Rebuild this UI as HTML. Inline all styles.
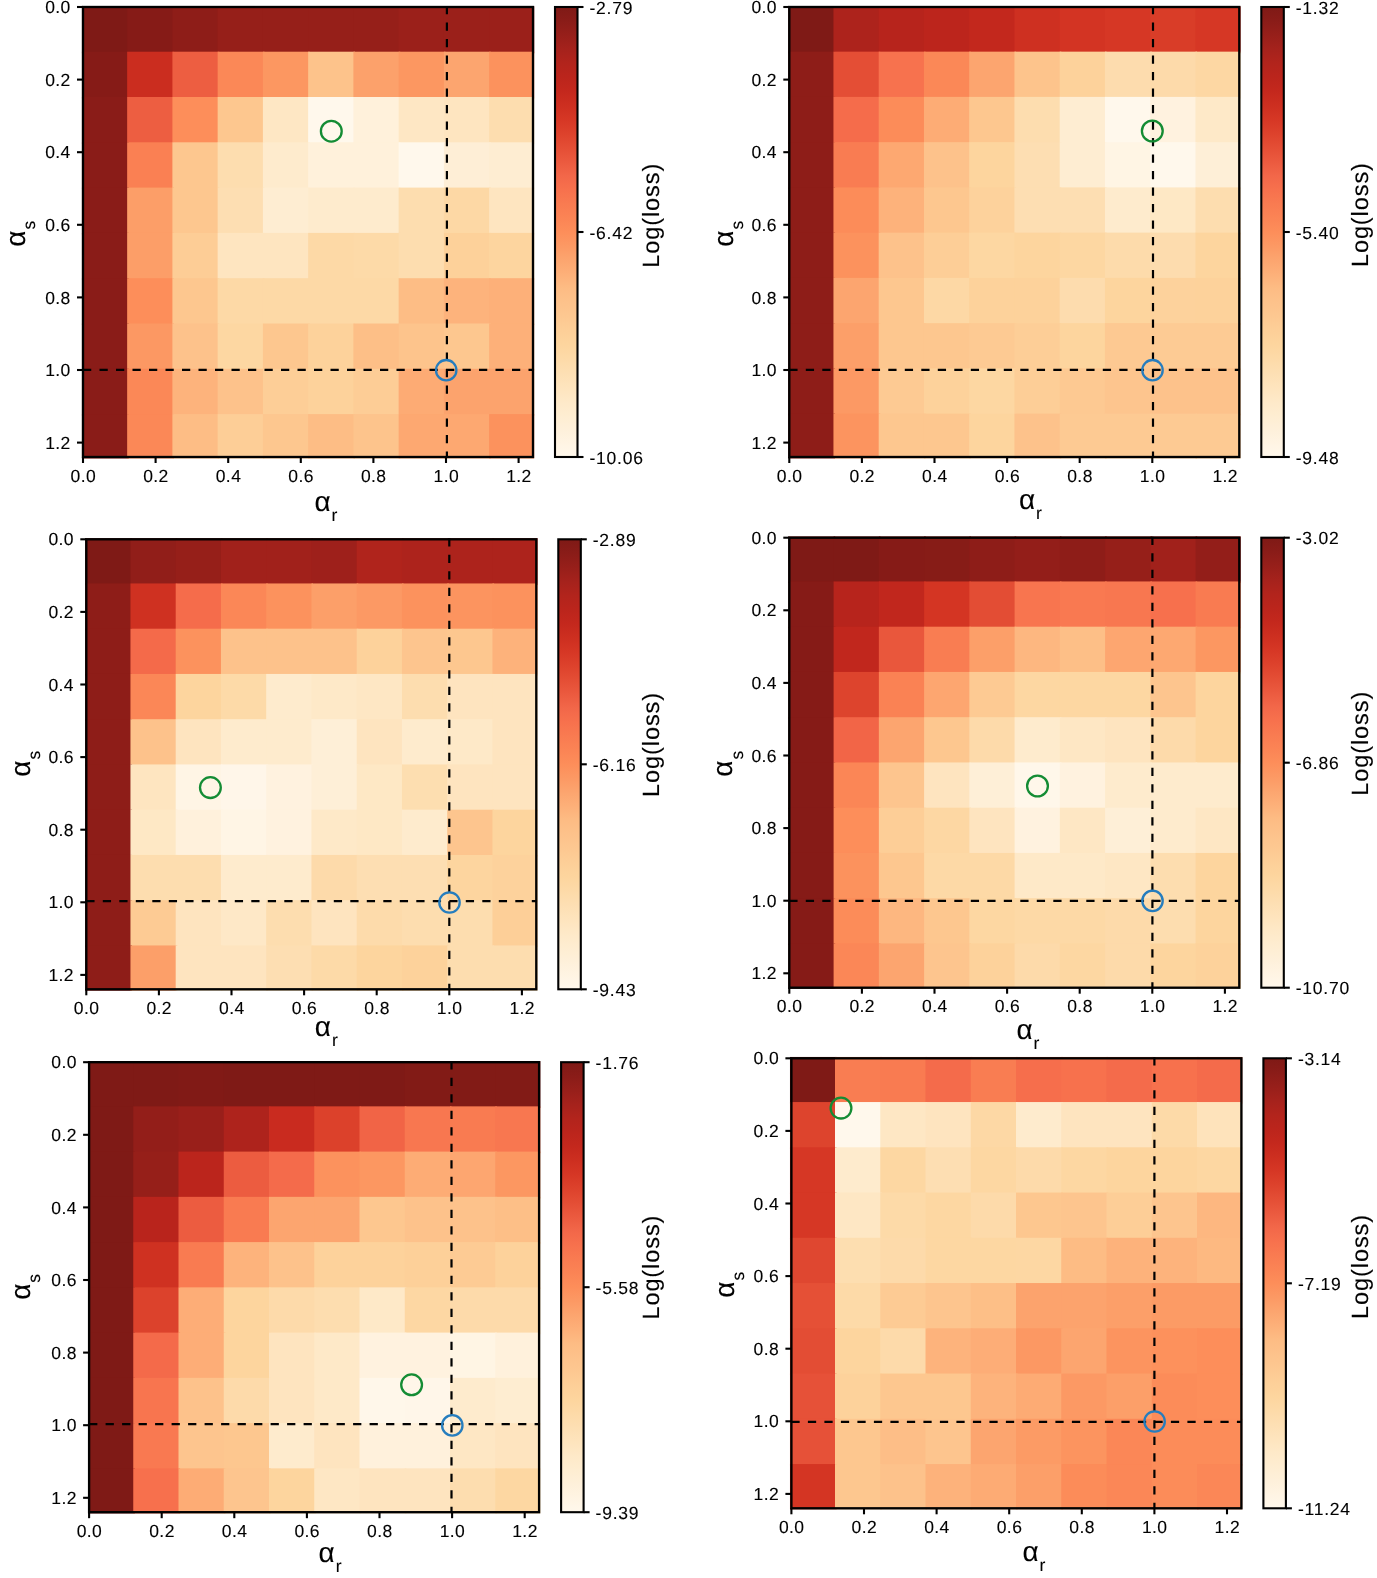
<!DOCTYPE html><html><head><meta charset="utf-8"><title>heatmaps</title><style>html,body{margin:0;padding:0;background:#fff}body{width:1377px;height:1578px;position:relative;overflow:hidden;font-family:"Liberation Sans",sans-serif}</style></head><body><svg width="1377" height="1578" viewBox="0 0 1377 1578" style="position:absolute;left:0;top:0;will-change:transform;opacity:0.999;font-family:'Liberation Sans',sans-serif"><style>text{stroke:#000;stroke-width:0.12px;text-rendering:geometricPrecision}</style>
<defs><linearGradient id="cb" x1="0" y1="0" x2="0" y2="1"><stop offset="0.0000" stop-color="#7f1a16"/><stop offset="0.0312" stop-color="#8a1c18"/><stop offset="0.0625" stop-color="#971f1a"/><stop offset="0.0938" stop-color="#a5221c"/><stop offset="0.1250" stop-color="#b2241c"/><stop offset="0.1562" stop-color="#bb251c"/><stop offset="0.1875" stop-color="#c4281d"/><stop offset="0.2188" stop-color="#cd2f20"/><stop offset="0.2500" stop-color="#d63725"/><stop offset="0.2812" stop-color="#dd422c"/><stop offset="0.3125" stop-color="#e44e35"/><stop offset="0.3438" stop-color="#eb5a3f"/><stop offset="0.3750" stop-color="#f26749"/><stop offset="0.4062" stop-color="#f7714d"/><stop offset="0.4375" stop-color="#f97b51"/><stop offset="0.4688" stop-color="#fb8455"/><stop offset="0.5000" stop-color="#fd8e5a"/><stop offset="0.5312" stop-color="#fc9964"/><stop offset="0.5625" stop-color="#fca56f"/><stop offset="0.5938" stop-color="#fdb079"/><stop offset="0.6250" stop-color="#fdbc84"/><stop offset="0.6562" stop-color="#fdc28b"/><stop offset="0.6875" stop-color="#fdc891"/><stop offset="0.7188" stop-color="#fdcf98"/><stop offset="0.7500" stop-color="#fdd59e"/><stop offset="0.7812" stop-color="#fddaa8"/><stop offset="0.8125" stop-color="#fddfb3"/><stop offset="0.8438" stop-color="#fee4bd"/><stop offset="0.8750" stop-color="#fee9c8"/><stop offset="0.9062" stop-color="#feedd1"/><stop offset="0.9375" stop-color="#fef0da"/><stop offset="0.9688" stop-color="#fff4e3"/><stop offset="1.0000" stop-color="#fff8ec"/></linearGradient></defs>
<g><clipPath id="c0"><rect x="81.5" y="5.5" width="453.1" height="453.1"/></clipPath><g clip-path="url(#c0)"><rect x="81.9" y="6.4" width="46.85" height="46.9" fill="#7f1a16"/><rect x="127.15" y="6.4" width="46.85" height="46.9" fill="#861b17"/><rect x="172.4" y="6.4" width="46.85" height="46.9" fill="#8e1d18"/><rect x="217.65" y="6.4" width="46.85" height="46.9" fill="#961f19"/><rect x="262.9" y="6.4" width="46.85" height="46.9" fill="#961f19"/><rect x="308.15" y="6.4" width="46.85" height="46.9" fill="#961f19"/><rect x="353.4" y="6.4" width="46.85" height="46.9" fill="#961f19"/><rect x="398.65" y="6.4" width="46.85" height="46.9" fill="#9b201a"/><rect x="443.9" y="6.4" width="46.85" height="46.9" fill="#9b201a"/><rect x="489.15" y="6.4" width="45.25" height="46.9" fill="#9b201a"/><rect x="81.9" y="51.7" width="46.85" height="46.9" fill="#861b17"/><rect x="127.15" y="51.7" width="46.85" height="46.9" fill="#cb2d1f"/><rect x="172.4" y="51.7" width="46.85" height="46.9" fill="#ed5e41"/><rect x="217.65" y="51.7" width="46.85" height="46.9" fill="#fb8857"/><rect x="262.9" y="51.7" width="46.85" height="46.9" fill="#fc9761"/><rect x="308.15" y="51.7" width="46.85" height="46.9" fill="#fdc38b"/><rect x="353.4" y="51.7" width="46.85" height="46.9" fill="#fca16b"/><rect x="398.65" y="51.7" width="46.85" height="46.9" fill="#fc9761"/><rect x="443.9" y="51.7" width="46.85" height="46.9" fill="#fca56f"/><rect x="489.15" y="51.7" width="45.25" height="46.9" fill="#fc925d"/><rect x="81.9" y="97" width="46.85" height="46.9" fill="#8a1c18"/><rect x="127.15" y="97" width="46.85" height="46.9" fill="#ed5e41"/><rect x="172.4" y="97" width="46.85" height="46.9" fill="#fd8e5a"/><rect x="217.65" y="97" width="46.85" height="46.9" fill="#fdc78f"/><rect x="262.9" y="97" width="46.85" height="46.9" fill="#fee7c4"/><rect x="308.15" y="97" width="46.85" height="46.9" fill="#fff8ec"/><rect x="353.4" y="97" width="46.85" height="46.9" fill="#fff1db"/><rect x="398.65" y="97" width="46.85" height="46.9" fill="#fee7c4"/><rect x="443.9" y="97" width="46.85" height="46.9" fill="#fee5c0"/><rect x="489.15" y="97" width="45.25" height="46.9" fill="#fdddaf"/><rect x="81.9" y="142.3" width="46.85" height="46.9" fill="#8a1c18"/><rect x="127.15" y="142.3" width="46.85" height="46.9" fill="#fa8053"/><rect x="172.4" y="142.3" width="46.85" height="46.9" fill="#fdc78f"/><rect x="217.65" y="142.3" width="46.85" height="46.9" fill="#fdddaf"/><rect x="262.9" y="142.3" width="46.85" height="46.9" fill="#feebcd"/><rect x="308.15" y="142.3" width="46.85" height="46.9" fill="#fff1db"/><rect x="353.4" y="142.3" width="46.85" height="46.9" fill="#fff1db"/><rect x="398.65" y="142.3" width="46.85" height="46.9" fill="#fff8ec"/><rect x="443.9" y="142.3" width="46.85" height="46.9" fill="#feeed6"/><rect x="489.15" y="142.3" width="45.25" height="46.9" fill="#feedd2"/><rect x="81.9" y="187.6" width="46.85" height="46.9" fill="#8a1c18"/><rect x="127.15" y="187.6" width="46.85" height="46.9" fill="#fc9e68"/><rect x="172.4" y="187.6" width="46.85" height="46.9" fill="#fdc78f"/><rect x="217.65" y="187.6" width="46.85" height="46.9" fill="#fddeb2"/><rect x="262.9" y="187.6" width="46.85" height="46.9" fill="#feedd2"/><rect x="308.15" y="187.6" width="46.85" height="46.9" fill="#feebcd"/><rect x="353.4" y="187.6" width="46.85" height="46.9" fill="#feebcd"/><rect x="398.65" y="187.6" width="46.85" height="46.9" fill="#fdddaf"/><rect x="443.9" y="187.6" width="46.85" height="46.9" fill="#fdd8a5"/><rect x="489.15" y="187.6" width="45.25" height="46.9" fill="#fee5c0"/><rect x="81.9" y="232.9" width="46.85" height="46.9" fill="#8a1c18"/><rect x="127.15" y="232.9" width="46.85" height="46.9" fill="#fc9e68"/><rect x="172.4" y="232.9" width="46.85" height="46.9" fill="#fdcd96"/><rect x="217.65" y="232.9" width="46.85" height="46.9" fill="#fee5c0"/><rect x="262.9" y="232.9" width="46.85" height="46.9" fill="#fee5c0"/><rect x="308.15" y="232.9" width="46.85" height="46.9" fill="#fdd9a6"/><rect x="353.4" y="232.9" width="46.85" height="46.9" fill="#fddaa8"/><rect x="398.65" y="232.9" width="46.85" height="46.9" fill="#fdddaf"/><rect x="443.9" y="232.9" width="46.85" height="46.9" fill="#fdd19a"/><rect x="489.15" y="232.9" width="45.25" height="46.9" fill="#fdd59f"/><rect x="81.9" y="278.2" width="46.85" height="46.9" fill="#8a1c18"/><rect x="127.15" y="278.2" width="46.85" height="46.9" fill="#fd8e5a"/><rect x="172.4" y="278.2" width="46.85" height="46.9" fill="#fdc78f"/><rect x="217.65" y="278.2" width="46.85" height="46.9" fill="#fdd9a6"/><rect x="262.9" y="278.2" width="46.85" height="46.9" fill="#fdd9a6"/><rect x="308.15" y="278.2" width="46.85" height="46.9" fill="#fdd9a6"/><rect x="353.4" y="278.2" width="46.85" height="46.9" fill="#fdd9a6"/><rect x="398.65" y="278.2" width="46.85" height="46.9" fill="#fdbd85"/><rect x="443.9" y="278.2" width="46.85" height="46.9" fill="#fdb37c"/><rect x="489.15" y="278.2" width="45.25" height="46.9" fill="#fdb079"/><rect x="81.9" y="323.5" width="46.85" height="46.9" fill="#8a1c18"/><rect x="127.15" y="323.5" width="46.85" height="46.9" fill="#fc9863"/><rect x="172.4" y="323.5" width="46.85" height="46.9" fill="#fdc28b"/><rect x="217.65" y="323.5" width="46.85" height="46.9" fill="#fdd7a2"/><rect x="262.9" y="323.5" width="46.85" height="46.9" fill="#fdc78f"/><rect x="308.15" y="323.5" width="46.85" height="46.9" fill="#fdd29b"/><rect x="353.4" y="323.5" width="46.85" height="46.9" fill="#fdbf87"/><rect x="398.65" y="323.5" width="46.85" height="46.9" fill="#fdc48c"/><rect x="443.9" y="323.5" width="46.85" height="46.9" fill="#fdc78f"/><rect x="489.15" y="323.5" width="45.25" height="46.9" fill="#fdb079"/><rect x="81.9" y="368.8" width="46.85" height="46.9" fill="#8a1c18"/><rect x="127.15" y="368.8" width="46.85" height="46.9" fill="#fb8857"/><rect x="172.4" y="368.8" width="46.85" height="46.9" fill="#fdb37c"/><rect x="217.65" y="368.8" width="46.85" height="46.9" fill="#fdc28b"/><rect x="262.9" y="368.8" width="46.85" height="46.9" fill="#fdce97"/><rect x="308.15" y="368.8" width="46.85" height="46.9" fill="#fdd29b"/><rect x="353.4" y="368.8" width="46.85" height="46.9" fill="#fdcd96"/><rect x="398.65" y="368.8" width="46.85" height="46.9" fill="#fdab74"/><rect x="443.9" y="368.8" width="46.85" height="46.9" fill="#fca36d"/><rect x="489.15" y="368.8" width="45.25" height="46.9" fill="#fca36d"/><rect x="81.9" y="414.1" width="46.85" height="45.3" fill="#8a1c18"/><rect x="127.15" y="414.1" width="46.85" height="45.3" fill="#fb8857"/><rect x="172.4" y="414.1" width="46.85" height="45.3" fill="#fdbd85"/><rect x="217.65" y="414.1" width="46.85" height="45.3" fill="#fdce97"/><rect x="262.9" y="414.1" width="46.85" height="45.3" fill="#fdc78f"/><rect x="308.15" y="414.1" width="46.85" height="45.3" fill="#fdbd85"/><rect x="353.4" y="414.1" width="46.85" height="45.3" fill="#fdc48c"/><rect x="398.65" y="414.1" width="46.85" height="45.3" fill="#fda871"/><rect x="443.9" y="414.1" width="46.85" height="45.3" fill="#fda871"/><rect x="489.15" y="414.1" width="45.25" height="45.3" fill="#fc925d"/></g><path d="M83 369.8H533" stroke="#000" stroke-width="2.2" stroke-dasharray="8.25 8.25" fill="none"/><path d="M446.9 6V457" stroke="#000" stroke-width="2.2" stroke-dasharray="8.25 8.25" fill="none"/><circle cx="331.3" cy="131.2" r="10.4" fill="none" stroke="rgb(20,140,52)" stroke-width="2.3"/><circle cx="446.2" cy="370.2" r="10.2" fill="none" stroke="rgb(38,125,190)" stroke-width="2.3"/><rect x="83" y="7" width="450" height="450" fill="none" stroke="#000" stroke-width="2.35"/><path d="M77 7H83" stroke="#000" stroke-width="2.1"/><path d="M83 457V463" stroke="#000" stroke-width="2.1"/><text x="70.7" y="13.1" text-anchor="end" font-size="17.5" letter-spacing="0.4">0.0</text><text x="83.3" y="481.6" text-anchor="middle" font-size="17.5" letter-spacing="0.4">0.0</text><path d="M77 79.6H83" stroke="#000" stroke-width="2.1"/><path d="M155.6 457V463" stroke="#000" stroke-width="2.1"/><text x="70.7" y="85.7" text-anchor="end" font-size="17.5" letter-spacing="0.4">0.2</text><text x="155.9" y="481.6" text-anchor="middle" font-size="17.5" letter-spacing="0.4">0.2</text><path d="M77 152.2H83" stroke="#000" stroke-width="2.1"/><path d="M228.2 457V463" stroke="#000" stroke-width="2.1"/><text x="70.7" y="158.3" text-anchor="end" font-size="17.5" letter-spacing="0.4">0.4</text><text x="228.5" y="481.6" text-anchor="middle" font-size="17.5" letter-spacing="0.4">0.4</text><path d="M77 224.8H83" stroke="#000" stroke-width="2.1"/><path d="M300.8 457V463" stroke="#000" stroke-width="2.1"/><text x="70.7" y="230.9" text-anchor="end" font-size="17.5" letter-spacing="0.4">0.6</text><text x="301.1" y="481.6" text-anchor="middle" font-size="17.5" letter-spacing="0.4">0.6</text><path d="M77 297.4H83" stroke="#000" stroke-width="2.1"/><path d="M373.4 457V463" stroke="#000" stroke-width="2.1"/><text x="70.7" y="303.5" text-anchor="end" font-size="17.5" letter-spacing="0.4">0.8</text><text x="373.7" y="481.6" text-anchor="middle" font-size="17.5" letter-spacing="0.4">0.8</text><path d="M77 370H83" stroke="#000" stroke-width="2.1"/><path d="M446 457V463" stroke="#000" stroke-width="2.1"/><text x="70.7" y="376.1" text-anchor="end" font-size="17.5" letter-spacing="0.4">1.0</text><text x="446.3" y="481.6" text-anchor="middle" font-size="17.5" letter-spacing="0.4">1.0</text><path d="M77 442.6H83" stroke="#000" stroke-width="2.1"/><path d="M518.6 457V463" stroke="#000" stroke-width="2.1"/><text x="70.7" y="448.7" text-anchor="end" font-size="17.5" letter-spacing="0.4">1.2</text><text x="518.9" y="481.6" text-anchor="middle" font-size="17.5" letter-spacing="0.4">1.2</text><text x="314.5" y="510.6" font-size="28">α</text><text x="331.6" y="520.6" font-size="17.5">r</text><g transform="translate(25.1 246.8) rotate(-90)"><text x="0" y="0" font-size="28">α</text><text x="17.2" y="10.2" font-size="17.5">s</text></g><rect x="555" y="7" width="22.5" height="450" fill="url(#cb)" stroke="#000" stroke-width="2.1"/><path d="M577.5 7H583.5" stroke="#000" stroke-width="2.1"/><text x="589.5" y="13.6" font-size="17.5" letter-spacing="0.75">-2.79</text><path d="M577.5 232H583.5" stroke="#000" stroke-width="2.1"/><text x="589.5" y="238.6" font-size="17.5" letter-spacing="0.75">-6.42</text><path d="M577.5 457H583.5" stroke="#000" stroke-width="2.1"/><text x="589.5" y="463.6" font-size="17.5" letter-spacing="0.75">-10.06</text><g transform="translate(659 267.8) rotate(-90)"><text x="0" y="0" font-size="23.5" letter-spacing="0.92">Log(loss)</text></g></g>
<g><clipPath id="c1"><rect x="787.8" y="5.5" width="453.1" height="453.1"/></clipPath><g clip-path="url(#c1)"><rect x="788.2" y="6.4" width="46.85" height="46.85" fill="#7f1a16"/><rect x="833.45" y="6.4" width="46.85" height="46.85" fill="#ad231c"/><rect x="878.7" y="6.4" width="46.85" height="46.85" fill="#b7241c"/><rect x="923.95" y="6.4" width="46.85" height="46.85" fill="#bc251c"/><rect x="969.2" y="6.4" width="46.85" height="46.85" fill="#c3281d"/><rect x="1014.45" y="6.4" width="46.85" height="46.85" fill="#ce3021"/><rect x="1059.7" y="6.4" width="46.85" height="46.85" fill="#d33423"/><rect x="1104.95" y="6.4" width="46.85" height="46.85" fill="#d63725"/><rect x="1150.2" y="6.4" width="46.85" height="46.85" fill="#d93d28"/><rect x="1195.45" y="6.4" width="45.25" height="46.85" fill="#d63725"/><rect x="788.2" y="51.65" width="46.85" height="46.85" fill="#8e1d18"/><rect x="833.45" y="51.65" width="46.85" height="46.85" fill="#e44e35"/><rect x="878.7" y="51.65" width="46.85" height="46.85" fill="#f7724e"/><rect x="923.95" y="51.65" width="46.85" height="46.85" fill="#fb8857"/><rect x="969.2" y="51.65" width="46.85" height="46.85" fill="#fca56f"/><rect x="1014.45" y="51.65" width="46.85" height="46.85" fill="#fdc48c"/><rect x="1059.7" y="51.65" width="46.85" height="46.85" fill="#fdd29b"/><rect x="1104.95" y="51.65" width="46.85" height="46.85" fill="#fddcae"/><rect x="1150.2" y="51.65" width="46.85" height="46.85" fill="#fddaaa"/><rect x="1195.45" y="51.65" width="45.25" height="46.85" fill="#fdd7a3"/><rect x="788.2" y="96.9" width="46.85" height="46.85" fill="#8e1d18"/><rect x="833.45" y="96.9" width="46.85" height="46.85" fill="#f56c4b"/><rect x="878.7" y="96.9" width="46.85" height="46.85" fill="#fc8c59"/><rect x="923.95" y="96.9" width="46.85" height="46.85" fill="#fdac75"/><rect x="969.2" y="96.9" width="46.85" height="46.85" fill="#fdc78f"/><rect x="1014.45" y="96.9" width="46.85" height="46.85" fill="#fdddaf"/><rect x="1059.7" y="96.9" width="46.85" height="46.85" fill="#feedd2"/><rect x="1104.95" y="96.9" width="46.85" height="46.85" fill="#fff8ec"/><rect x="1150.2" y="96.9" width="46.85" height="46.85" fill="#fff2df"/><rect x="1195.45" y="96.9" width="45.25" height="46.85" fill="#fee9c8"/><rect x="788.2" y="142.15" width="46.85" height="46.85" fill="#8e1d18"/><rect x="833.45" y="142.15" width="46.85" height="46.85" fill="#f97c52"/><rect x="878.7" y="142.15" width="46.85" height="46.85" fill="#fda871"/><rect x="923.95" y="142.15" width="46.85" height="46.85" fill="#fdc28b"/><rect x="969.2" y="142.15" width="46.85" height="46.85" fill="#fdd59e"/><rect x="1014.45" y="142.15" width="46.85" height="46.85" fill="#fddeb2"/><rect x="1059.7" y="142.15" width="46.85" height="46.85" fill="#feedd2"/><rect x="1104.95" y="142.15" width="46.85" height="46.85" fill="#fff5e4"/><rect x="1150.2" y="142.15" width="46.85" height="46.85" fill="#fff8ec"/><rect x="1195.45" y="142.15" width="45.25" height="46.85" fill="#feefd7"/><rect x="788.2" y="187.4" width="46.85" height="46.85" fill="#8e1d18"/><rect x="833.45" y="187.4" width="46.85" height="46.85" fill="#fc8c59"/><rect x="878.7" y="187.4" width="46.85" height="46.85" fill="#fdb27b"/><rect x="923.95" y="187.4" width="46.85" height="46.85" fill="#fdc78f"/><rect x="969.2" y="187.4" width="46.85" height="46.85" fill="#fdd29c"/><rect x="1014.45" y="187.4" width="46.85" height="46.85" fill="#fddeb2"/><rect x="1059.7" y="187.4" width="46.85" height="46.85" fill="#fddeb2"/><rect x="1104.95" y="187.4" width="46.85" height="46.85" fill="#feebcd"/><rect x="1150.2" y="187.4" width="46.85" height="46.85" fill="#fee8c5"/><rect x="1195.45" y="187.4" width="45.25" height="46.85" fill="#fdddaf"/><rect x="788.2" y="232.65" width="46.85" height="46.85" fill="#8e1d18"/><rect x="833.45" y="232.65" width="46.85" height="46.85" fill="#fc925d"/><rect x="878.7" y="232.65" width="46.85" height="46.85" fill="#fdc28b"/><rect x="923.95" y="232.65" width="46.85" height="46.85" fill="#fdce97"/><rect x="969.2" y="232.65" width="46.85" height="46.85" fill="#fdd7a2"/><rect x="1014.45" y="232.65" width="46.85" height="46.85" fill="#fdd59e"/><rect x="1059.7" y="232.65" width="46.85" height="46.85" fill="#fdd7a2"/><rect x="1104.95" y="232.65" width="46.85" height="46.85" fill="#fddbab"/><rect x="1150.2" y="232.65" width="46.85" height="46.85" fill="#fddcae"/><rect x="1195.45" y="232.65" width="45.25" height="46.85" fill="#fdd59e"/><rect x="788.2" y="277.9" width="46.85" height="46.85" fill="#8e1d18"/><rect x="833.45" y="277.9" width="46.85" height="46.85" fill="#fca56f"/><rect x="878.7" y="277.9" width="46.85" height="46.85" fill="#fdc78f"/><rect x="923.95" y="277.9" width="46.85" height="46.85" fill="#fdd8a5"/><rect x="969.2" y="277.9" width="46.85" height="46.85" fill="#fdd29b"/><rect x="1014.45" y="277.9" width="46.85" height="46.85" fill="#fdd29b"/><rect x="1059.7" y="277.9" width="46.85" height="46.85" fill="#fddcae"/><rect x="1104.95" y="277.9" width="46.85" height="46.85" fill="#fdd59e"/><rect x="1150.2" y="277.9" width="46.85" height="46.85" fill="#fdd29c"/><rect x="1195.45" y="277.9" width="45.25" height="46.85" fill="#fdd29b"/><rect x="788.2" y="323.15" width="46.85" height="46.85" fill="#8e1d18"/><rect x="833.45" y="323.15" width="46.85" height="46.85" fill="#fc9f69"/><rect x="878.7" y="323.15" width="46.85" height="46.85" fill="#fdc78f"/><rect x="923.95" y="323.15" width="46.85" height="46.85" fill="#fdc78f"/><rect x="969.2" y="323.15" width="46.85" height="46.85" fill="#fdca93"/><rect x="1014.45" y="323.15" width="46.85" height="46.85" fill="#fdce97"/><rect x="1059.7" y="323.15" width="46.85" height="46.85" fill="#fdd59e"/><rect x="1104.95" y="323.15" width="46.85" height="46.85" fill="#fdc992"/><rect x="1150.2" y="323.15" width="46.85" height="46.85" fill="#fdcb94"/><rect x="1195.45" y="323.15" width="45.25" height="46.85" fill="#fdcb94"/><rect x="788.2" y="368.4" width="46.85" height="46.85" fill="#8e1d18"/><rect x="833.45" y="368.4" width="46.85" height="46.85" fill="#fc9964"/><rect x="878.7" y="368.4" width="46.85" height="46.85" fill="#fdca93"/><rect x="923.95" y="368.4" width="46.85" height="46.85" fill="#fdd29b"/><rect x="969.2" y="368.4" width="46.85" height="46.85" fill="#fdd7a2"/><rect x="1014.45" y="368.4" width="46.85" height="46.85" fill="#fdce97"/><rect x="1059.7" y="368.4" width="46.85" height="46.85" fill="#fdc992"/><rect x="1104.95" y="368.4" width="46.85" height="46.85" fill="#fdc58e"/><rect x="1150.2" y="368.4" width="46.85" height="46.85" fill="#fdc28b"/><rect x="1195.45" y="368.4" width="45.25" height="46.85" fill="#fdc28b"/><rect x="788.2" y="413.65" width="46.85" height="45.25" fill="#8e1d18"/><rect x="833.45" y="413.65" width="46.85" height="45.25" fill="#fc945f"/><rect x="878.7" y="413.65" width="46.85" height="45.25" fill="#fdc78f"/><rect x="923.95" y="413.65" width="46.85" height="45.25" fill="#fdc78f"/><rect x="969.2" y="413.65" width="46.85" height="45.25" fill="#fdd59e"/><rect x="1014.45" y="413.65" width="46.85" height="45.25" fill="#fdc28b"/><rect x="1059.7" y="413.65" width="46.85" height="45.25" fill="#fdca93"/><rect x="1104.95" y="413.65" width="46.85" height="45.25" fill="#fdca93"/><rect x="1150.2" y="413.65" width="46.85" height="45.25" fill="#fdca93"/><rect x="1195.45" y="413.65" width="45.25" height="45.25" fill="#fdca93"/></g><path d="M789.3 369.8H1239.3" stroke="#000" stroke-width="2.2" stroke-dasharray="8.25 8.25" fill="none"/><path d="M1153 6V457" stroke="#000" stroke-width="2.2" stroke-dasharray="8.25 8.25" fill="none"/><circle cx="1152.3" cy="131" r="10.4" fill="none" stroke="rgb(20,140,52)" stroke-width="2.3"/><circle cx="1152.5" cy="370.2" r="10.2" fill="none" stroke="rgb(38,125,190)" stroke-width="2.3"/><rect x="789.3" y="7" width="450" height="450" fill="none" stroke="#000" stroke-width="2.35"/><path d="M783.3 7H789.3" stroke="#000" stroke-width="2.1"/><path d="M789.3 457V463" stroke="#000" stroke-width="2.1"/><text x="777" y="13.1" text-anchor="end" font-size="17.5" letter-spacing="0.4">0.0</text><text x="789.6" y="481.6" text-anchor="middle" font-size="17.5" letter-spacing="0.4">0.0</text><path d="M783.3 79.6H789.3" stroke="#000" stroke-width="2.1"/><path d="M861.9 457V463" stroke="#000" stroke-width="2.1"/><text x="777" y="85.7" text-anchor="end" font-size="17.5" letter-spacing="0.4">0.2</text><text x="862.2" y="481.6" text-anchor="middle" font-size="17.5" letter-spacing="0.4">0.2</text><path d="M783.3 152.2H789.3" stroke="#000" stroke-width="2.1"/><path d="M934.5 457V463" stroke="#000" stroke-width="2.1"/><text x="777" y="158.3" text-anchor="end" font-size="17.5" letter-spacing="0.4">0.4</text><text x="934.8" y="481.6" text-anchor="middle" font-size="17.5" letter-spacing="0.4">0.4</text><path d="M783.3 224.8H789.3" stroke="#000" stroke-width="2.1"/><path d="M1007.1 457V463" stroke="#000" stroke-width="2.1"/><text x="777" y="230.9" text-anchor="end" font-size="17.5" letter-spacing="0.4">0.6</text><text x="1007.4" y="481.6" text-anchor="middle" font-size="17.5" letter-spacing="0.4">0.6</text><path d="M783.3 297.4H789.3" stroke="#000" stroke-width="2.1"/><path d="M1079.7 457V463" stroke="#000" stroke-width="2.1"/><text x="777" y="303.5" text-anchor="end" font-size="17.5" letter-spacing="0.4">0.8</text><text x="1080" y="481.6" text-anchor="middle" font-size="17.5" letter-spacing="0.4">0.8</text><path d="M783.3 370H789.3" stroke="#000" stroke-width="2.1"/><path d="M1152.3 457V463" stroke="#000" stroke-width="2.1"/><text x="777" y="376.1" text-anchor="end" font-size="17.5" letter-spacing="0.4">1.0</text><text x="1152.6" y="481.6" text-anchor="middle" font-size="17.5" letter-spacing="0.4">1.0</text><path d="M783.3 442.6H789.3" stroke="#000" stroke-width="2.1"/><path d="M1224.9 457V463" stroke="#000" stroke-width="2.1"/><text x="777" y="448.7" text-anchor="end" font-size="17.5" letter-spacing="0.4">1.2</text><text x="1225.2" y="481.6" text-anchor="middle" font-size="17.5" letter-spacing="0.4">1.2</text><text x="1019" y="508.8" font-size="28">α</text><text x="1036.1" y="518.8" font-size="17.5">r</text><g transform="translate(733.2 246.8) rotate(-90)"><text x="0" y="0" font-size="28">α</text><text x="17.2" y="10.2" font-size="17.5">s</text></g><rect x="1261.3" y="7" width="22.5" height="450" fill="url(#cb)" stroke="#000" stroke-width="2.1"/><path d="M1283.8 7H1289.8" stroke="#000" stroke-width="2.1"/><text x="1295.8" y="13.6" font-size="17.5" letter-spacing="0.75">-1.32</text><path d="M1283.8 232H1289.8" stroke="#000" stroke-width="2.1"/><text x="1295.8" y="238.6" font-size="17.5" letter-spacing="0.75">-5.40</text><path d="M1283.8 457H1289.8" stroke="#000" stroke-width="2.1"/><text x="1295.8" y="463.6" font-size="17.5" letter-spacing="0.75">-9.48</text><g transform="translate(1367.9 267.1) rotate(-90)"><text x="0" y="0" font-size="23.5" letter-spacing="0.92">Log(loss)</text></g></g>
<g><clipPath id="c2"><rect x="84.8" y="537.8" width="453.1" height="453.1"/></clipPath><g clip-path="url(#c2)"><rect x="85.2" y="538.2" width="46.85" height="46.85" fill="#7f1a16"/><rect x="130.45" y="538.2" width="46.85" height="46.85" fill="#911e19"/><rect x="175.7" y="538.2" width="46.85" height="46.85" fill="#961f19"/><rect x="220.95" y="538.2" width="46.85" height="46.85" fill="#a1211b"/><rect x="266.2" y="538.2" width="46.85" height="46.85" fill="#a1211b"/><rect x="311.45" y="538.2" width="46.85" height="46.85" fill="#9e201b"/><rect x="356.7" y="538.2" width="46.85" height="46.85" fill="#b0241c"/><rect x="401.95" y="538.2" width="46.85" height="46.85" fill="#ad231c"/><rect x="447.2" y="538.2" width="46.85" height="46.85" fill="#ad231c"/><rect x="492.45" y="538.2" width="45.25" height="46.85" fill="#ad231c"/><rect x="85.2" y="583.45" width="46.85" height="46.85" fill="#8e1d18"/><rect x="130.45" y="583.45" width="46.85" height="46.85" fill="#cf3121"/><rect x="175.7" y="583.45" width="46.85" height="46.85" fill="#f56c4b"/><rect x="220.95" y="583.45" width="46.85" height="46.85" fill="#fb8757"/><rect x="266.2" y="583.45" width="46.85" height="46.85" fill="#fc925d"/><rect x="311.45" y="583.45" width="46.85" height="46.85" fill="#fc9f69"/><rect x="356.7" y="583.45" width="46.85" height="46.85" fill="#fc9964"/><rect x="401.95" y="583.45" width="46.85" height="46.85" fill="#fc925d"/><rect x="447.2" y="583.45" width="46.85" height="46.85" fill="#fc945f"/><rect x="492.45" y="583.45" width="45.25" height="46.85" fill="#fc925d"/><rect x="85.2" y="628.7" width="46.85" height="46.85" fill="#8e1d18"/><rect x="130.45" y="628.7" width="46.85" height="46.85" fill="#f46a4a"/><rect x="175.7" y="628.7" width="46.85" height="46.85" fill="#fc925d"/><rect x="220.95" y="628.7" width="46.85" height="46.85" fill="#fdc28b"/><rect x="266.2" y="628.7" width="46.85" height="46.85" fill="#fdc28b"/><rect x="311.45" y="628.7" width="46.85" height="46.85" fill="#fdc28b"/><rect x="356.7" y="628.7" width="46.85" height="46.85" fill="#fdd29b"/><rect x="401.95" y="628.7" width="46.85" height="46.85" fill="#fdc58e"/><rect x="447.2" y="628.7" width="46.85" height="46.85" fill="#fdc78f"/><rect x="492.45" y="628.7" width="45.25" height="46.85" fill="#fdb27b"/><rect x="85.2" y="673.95" width="46.85" height="46.85" fill="#8e1d18"/><rect x="130.45" y="673.95" width="46.85" height="46.85" fill="#fb8757"/><rect x="175.7" y="673.95" width="46.85" height="46.85" fill="#fdd59e"/><rect x="220.95" y="673.95" width="46.85" height="46.85" fill="#fddaa8"/><rect x="266.2" y="673.95" width="46.85" height="46.85" fill="#feebcd"/><rect x="311.45" y="673.95" width="46.85" height="46.85" fill="#fee9c8"/><rect x="356.7" y="673.95" width="46.85" height="46.85" fill="#fee7c4"/><rect x="401.95" y="673.95" width="46.85" height="46.85" fill="#fdddaf"/><rect x="447.2" y="673.95" width="46.85" height="46.85" fill="#fee4bf"/><rect x="492.45" y="673.95" width="45.25" height="46.85" fill="#fee4bf"/><rect x="85.2" y="719.2" width="46.85" height="46.85" fill="#8e1d18"/><rect x="130.45" y="719.2" width="46.85" height="46.85" fill="#fdc28b"/><rect x="175.7" y="719.2" width="46.85" height="46.85" fill="#fee4bf"/><rect x="220.95" y="719.2" width="46.85" height="46.85" fill="#feebcd"/><rect x="266.2" y="719.2" width="46.85" height="46.85" fill="#feebcd"/><rect x="311.45" y="719.2" width="46.85" height="46.85" fill="#feefd7"/><rect x="356.7" y="719.2" width="46.85" height="46.85" fill="#fee4bf"/><rect x="401.95" y="719.2" width="46.85" height="46.85" fill="#feebcd"/><rect x="447.2" y="719.2" width="46.85" height="46.85" fill="#fee9c8"/><rect x="492.45" y="719.2" width="45.25" height="46.85" fill="#fee4bf"/><rect x="85.2" y="764.45" width="46.85" height="46.85" fill="#8e1d18"/><rect x="130.45" y="764.45" width="46.85" height="46.85" fill="#fee5c0"/><rect x="175.7" y="764.45" width="46.85" height="46.85" fill="#fff5e5"/><rect x="220.95" y="764.45" width="46.85" height="46.85" fill="#fff6e9"/><rect x="266.2" y="764.45" width="46.85" height="46.85" fill="#fff2df"/><rect x="311.45" y="764.45" width="46.85" height="46.85" fill="#feefd7"/><rect x="356.7" y="764.45" width="46.85" height="46.85" fill="#fee8c5"/><rect x="401.95" y="764.45" width="46.85" height="46.85" fill="#fddeb0"/><rect x="447.2" y="764.45" width="46.85" height="46.85" fill="#fee4bf"/><rect x="492.45" y="764.45" width="45.25" height="46.85" fill="#fee4bf"/><rect x="85.2" y="809.7" width="46.85" height="46.85" fill="#8e1d18"/><rect x="130.45" y="809.7" width="46.85" height="46.85" fill="#fee8c5"/><rect x="175.7" y="809.7" width="46.85" height="46.85" fill="#fff1dc"/><rect x="220.95" y="809.7" width="46.85" height="46.85" fill="#fff5e5"/><rect x="266.2" y="809.7" width="46.85" height="46.85" fill="#fff2df"/><rect x="311.45" y="809.7" width="46.85" height="46.85" fill="#fee9c8"/><rect x="356.7" y="809.7" width="46.85" height="46.85" fill="#fee8c5"/><rect x="401.95" y="809.7" width="46.85" height="46.85" fill="#feebcd"/><rect x="447.2" y="809.7" width="46.85" height="46.85" fill="#fdc58e"/><rect x="492.45" y="809.7" width="45.25" height="46.85" fill="#fdd59e"/><rect x="85.2" y="854.95" width="46.85" height="46.85" fill="#8e1d18"/><rect x="130.45" y="854.95" width="46.85" height="46.85" fill="#fdddaf"/><rect x="175.7" y="854.95" width="46.85" height="46.85" fill="#fdddaf"/><rect x="220.95" y="854.95" width="46.85" height="46.85" fill="#feebcd"/><rect x="266.2" y="854.95" width="46.85" height="46.85" fill="#feebcd"/><rect x="311.45" y="854.95" width="46.85" height="46.85" fill="#fddaaa"/><rect x="356.7" y="854.95" width="46.85" height="46.85" fill="#fddeb2"/><rect x="401.95" y="854.95" width="46.85" height="46.85" fill="#fddeb2"/><rect x="447.2" y="854.95" width="46.85" height="46.85" fill="#fdd59f"/><rect x="492.45" y="854.95" width="45.25" height="46.85" fill="#fdd29c"/><rect x="85.2" y="900.2" width="46.85" height="46.85" fill="#8e1d18"/><rect x="130.45" y="900.2" width="46.85" height="46.85" fill="#fdcb94"/><rect x="175.7" y="900.2" width="46.85" height="46.85" fill="#fee4bf"/><rect x="220.95" y="900.2" width="46.85" height="46.85" fill="#fee8c7"/><rect x="266.2" y="900.2" width="46.85" height="46.85" fill="#fdddaf"/><rect x="311.45" y="900.2" width="46.85" height="46.85" fill="#fee4bf"/><rect x="356.7" y="900.2" width="46.85" height="46.85" fill="#fddbab"/><rect x="401.95" y="900.2" width="46.85" height="46.85" fill="#fdddaf"/><rect x="447.2" y="900.2" width="46.85" height="46.85" fill="#fdddaf"/><rect x="492.45" y="900.2" width="45.25" height="46.85" fill="#fdcf98"/><rect x="85.2" y="945.45" width="46.85" height="45.25" fill="#8e1d18"/><rect x="130.45" y="945.45" width="46.85" height="45.25" fill="#fc9f69"/><rect x="175.7" y="945.45" width="46.85" height="45.25" fill="#fee4bf"/><rect x="220.95" y="945.45" width="46.85" height="45.25" fill="#fee4bf"/><rect x="266.2" y="945.45" width="46.85" height="45.25" fill="#fddeb2"/><rect x="311.45" y="945.45" width="46.85" height="45.25" fill="#fddaa8"/><rect x="356.7" y="945.45" width="46.85" height="45.25" fill="#fdd59e"/><rect x="401.95" y="945.45" width="46.85" height="45.25" fill="#fdd29b"/><rect x="447.2" y="945.45" width="46.85" height="45.25" fill="#fdddaf"/><rect x="492.45" y="945.45" width="45.25" height="45.25" fill="#fdddaf"/></g><path d="M86.3 901.1H536.3" stroke="#000" stroke-width="2.2" stroke-dasharray="8.25 8.25" fill="none"/><path d="M449.3 538.3V989.3" stroke="#000" stroke-width="2.2" stroke-dasharray="8.25 8.25" fill="none"/><circle cx="210.4" cy="787.6" r="10.4" fill="none" stroke="rgb(20,140,52)" stroke-width="2.3"/><circle cx="449.5" cy="902.5" r="10.2" fill="none" stroke="rgb(38,125,190)" stroke-width="2.3"/><rect x="86.3" y="539.3" width="450" height="450" fill="none" stroke="#000" stroke-width="2.35"/><path d="M80.3 539.3H86.3" stroke="#000" stroke-width="2.1"/><path d="M86.3 989.3V995.3" stroke="#000" stroke-width="2.1"/><text x="74" y="545.4" text-anchor="end" font-size="17.5" letter-spacing="0.4">0.0</text><text x="86.6" y="1013.9" text-anchor="middle" font-size="17.5" letter-spacing="0.4">0.0</text><path d="M80.3 611.9H86.3" stroke="#000" stroke-width="2.1"/><path d="M158.9 989.3V995.3" stroke="#000" stroke-width="2.1"/><text x="74" y="618" text-anchor="end" font-size="17.5" letter-spacing="0.4">0.2</text><text x="159.2" y="1013.9" text-anchor="middle" font-size="17.5" letter-spacing="0.4">0.2</text><path d="M80.3 684.5H86.3" stroke="#000" stroke-width="2.1"/><path d="M231.5 989.3V995.3" stroke="#000" stroke-width="2.1"/><text x="74" y="690.6" text-anchor="end" font-size="17.5" letter-spacing="0.4">0.4</text><text x="231.8" y="1013.9" text-anchor="middle" font-size="17.5" letter-spacing="0.4">0.4</text><path d="M80.3 757.1H86.3" stroke="#000" stroke-width="2.1"/><path d="M304.1 989.3V995.3" stroke="#000" stroke-width="2.1"/><text x="74" y="763.2" text-anchor="end" font-size="17.5" letter-spacing="0.4">0.6</text><text x="304.4" y="1013.9" text-anchor="middle" font-size="17.5" letter-spacing="0.4">0.6</text><path d="M80.3 829.7H86.3" stroke="#000" stroke-width="2.1"/><path d="M376.7 989.3V995.3" stroke="#000" stroke-width="2.1"/><text x="74" y="835.8" text-anchor="end" font-size="17.5" letter-spacing="0.4">0.8</text><text x="377" y="1013.9" text-anchor="middle" font-size="17.5" letter-spacing="0.4">0.8</text><path d="M80.3 902.3H86.3" stroke="#000" stroke-width="2.1"/><path d="M449.3 989.3V995.3" stroke="#000" stroke-width="2.1"/><text x="74" y="908.4" text-anchor="end" font-size="17.5" letter-spacing="0.4">1.0</text><text x="449.6" y="1013.9" text-anchor="middle" font-size="17.5" letter-spacing="0.4">1.0</text><path d="M80.3 974.9H86.3" stroke="#000" stroke-width="2.1"/><path d="M521.9 989.3V995.3" stroke="#000" stroke-width="2.1"/><text x="74" y="981" text-anchor="end" font-size="17.5" letter-spacing="0.4">1.2</text><text x="522.2" y="1013.9" text-anchor="middle" font-size="17.5" letter-spacing="0.4">1.2</text><text x="314.85" y="1036.3" font-size="28">α</text><text x="331.95" y="1046.3" font-size="17.5">r</text><g transform="translate(30 776.8) rotate(-90)"><text x="0" y="0" font-size="28">α</text><text x="17.2" y="10.2" font-size="17.5">s</text></g><rect x="558.3" y="539.3" width="22.5" height="450" fill="url(#cb)" stroke="#000" stroke-width="2.1"/><path d="M580.8 539.3H586.8" stroke="#000" stroke-width="2.1"/><text x="592.8" y="545.9" font-size="17.5" letter-spacing="0.75">-2.89</text><path d="M580.8 764.3H586.8" stroke="#000" stroke-width="2.1"/><text x="592.8" y="770.9" font-size="17.5" letter-spacing="0.75">-6.16</text><path d="M580.8 989.3H586.8" stroke="#000" stroke-width="2.1"/><text x="592.8" y="995.9" font-size="17.5" letter-spacing="0.75">-9.43</text><g transform="translate(659.1 796.9) rotate(-90)"><text x="0" y="0" font-size="23.5" letter-spacing="0.92">Log(loss)</text></g></g>
<g><clipPath id="c3"><rect x="787.8" y="536.2" width="453.1" height="453.1"/></clipPath><g clip-path="url(#c3)"><rect x="788.35" y="536.2" width="46.85" height="46.85" fill="#7f1a16"/><rect x="833.6" y="536.2" width="46.85" height="46.85" fill="#7f1a16"/><rect x="878.85" y="536.2" width="46.85" height="46.85" fill="#861b17"/><rect x="924.1" y="536.2" width="46.85" height="46.85" fill="#871c17"/><rect x="969.35" y="536.2" width="46.85" height="46.85" fill="#8e1d18"/><rect x="1014.6" y="536.2" width="46.85" height="46.85" fill="#931e19"/><rect x="1059.85" y="536.2" width="46.85" height="46.85" fill="#8e1d18"/><rect x="1105.1" y="536.2" width="46.85" height="46.85" fill="#961f19"/><rect x="1150.35" y="536.2" width="46.85" height="46.85" fill="#a1211b"/><rect x="1195.6" y="536.2" width="45.25" height="46.85" fill="#931e19"/><rect x="788.35" y="581.45" width="46.85" height="46.85" fill="#861b17"/><rect x="833.6" y="581.45" width="46.85" height="46.85" fill="#b7241c"/><rect x="878.85" y="581.45" width="46.85" height="46.85" fill="#c1271d"/><rect x="924.1" y="581.45" width="46.85" height="46.85" fill="#d43523"/><rect x="969.35" y="581.45" width="46.85" height="46.85" fill="#e34d34"/><rect x="1014.6" y="581.45" width="46.85" height="46.85" fill="#f8754f"/><rect x="1059.85" y="581.45" width="46.85" height="46.85" fill="#f97951"/><rect x="1105.1" y="581.45" width="46.85" height="46.85" fill="#f87750"/><rect x="1150.35" y="581.45" width="46.85" height="46.85" fill="#f7704d"/><rect x="1195.6" y="581.45" width="45.25" height="46.85" fill="#f97b51"/><rect x="788.35" y="626.7" width="46.85" height="46.85" fill="#861b17"/><rect x="833.6" y="626.7" width="46.85" height="46.85" fill="#c1271d"/><rect x="878.85" y="626.7" width="46.85" height="46.85" fill="#e9573c"/><rect x="924.1" y="626.7" width="46.85" height="46.85" fill="#f97d52"/><rect x="969.35" y="626.7" width="46.85" height="46.85" fill="#fc9f69"/><rect x="1014.6" y="626.7" width="46.85" height="46.85" fill="#fdb780"/><rect x="1059.85" y="626.7" width="46.85" height="46.85" fill="#fdbf87"/><rect x="1105.1" y="626.7" width="46.85" height="46.85" fill="#fda670"/><rect x="1150.35" y="626.7" width="46.85" height="46.85" fill="#fda871"/><rect x="1195.6" y="626.7" width="45.25" height="46.85" fill="#fc9761"/><rect x="788.35" y="671.95" width="46.85" height="46.85" fill="#861b17"/><rect x="833.6" y="671.95" width="46.85" height="46.85" fill="#dd442d"/><rect x="878.85" y="671.95" width="46.85" height="46.85" fill="#fa8254"/><rect x="924.1" y="671.95" width="46.85" height="46.85" fill="#fda670"/><rect x="969.35" y="671.95" width="46.85" height="46.85" fill="#fdca93"/><rect x="1014.6" y="671.95" width="46.85" height="46.85" fill="#fdd7a2"/><rect x="1059.85" y="671.95" width="46.85" height="46.85" fill="#fdd7a2"/><rect x="1105.1" y="671.95" width="46.85" height="46.85" fill="#fdd7a2"/><rect x="1150.35" y="671.95" width="46.85" height="46.85" fill="#fdc58e"/><rect x="1195.6" y="671.95" width="45.25" height="46.85" fill="#fdd59e"/><rect x="788.35" y="717.2" width="46.85" height="46.85" fill="#861b17"/><rect x="833.6" y="717.2" width="46.85" height="46.85" fill="#f26547"/><rect x="878.85" y="717.2" width="46.85" height="46.85" fill="#fca56f"/><rect x="924.1" y="717.2" width="46.85" height="46.85" fill="#fdc78f"/><rect x="969.35" y="717.2" width="46.85" height="46.85" fill="#fddaaa"/><rect x="1014.6" y="717.2" width="46.85" height="46.85" fill="#feebcd"/><rect x="1059.85" y="717.2" width="46.85" height="46.85" fill="#fee7c4"/><rect x="1105.1" y="717.2" width="46.85" height="46.85" fill="#fee4bf"/><rect x="1150.35" y="717.2" width="46.85" height="46.85" fill="#fddaaa"/><rect x="1195.6" y="717.2" width="45.25" height="46.85" fill="#fdd59e"/><rect x="788.35" y="762.45" width="46.85" height="46.85" fill="#861b17"/><rect x="833.6" y="762.45" width="46.85" height="46.85" fill="#fb8656"/><rect x="878.85" y="762.45" width="46.85" height="46.85" fill="#fdc58e"/><rect x="924.1" y="762.45" width="46.85" height="46.85" fill="#fee4bf"/><rect x="969.35" y="762.45" width="46.85" height="46.85" fill="#feefd7"/><rect x="1014.6" y="762.45" width="46.85" height="46.85" fill="#fff7ea"/><rect x="1059.85" y="762.45" width="46.85" height="46.85" fill="#fff2df"/><rect x="1105.1" y="762.45" width="46.85" height="46.85" fill="#feebcd"/><rect x="1150.35" y="762.45" width="46.85" height="46.85" fill="#feebcd"/><rect x="1195.6" y="762.45" width="45.25" height="46.85" fill="#feebcd"/><rect x="788.35" y="807.7" width="46.85" height="46.85" fill="#861b17"/><rect x="833.6" y="807.7" width="46.85" height="46.85" fill="#fd8e5a"/><rect x="878.85" y="807.7" width="46.85" height="46.85" fill="#fdce97"/><rect x="924.1" y="807.7" width="46.85" height="46.85" fill="#fdd7a3"/><rect x="969.35" y="807.7" width="46.85" height="46.85" fill="#fee4bf"/><rect x="1014.6" y="807.7" width="46.85" height="46.85" fill="#fff2df"/><rect x="1059.85" y="807.7" width="46.85" height="46.85" fill="#fee7c4"/><rect x="1105.1" y="807.7" width="46.85" height="46.85" fill="#feefd7"/><rect x="1150.35" y="807.7" width="46.85" height="46.85" fill="#feebcd"/><rect x="1195.6" y="807.7" width="45.25" height="46.85" fill="#fee7c4"/><rect x="788.35" y="852.95" width="46.85" height="46.85" fill="#861b17"/><rect x="833.6" y="852.95" width="46.85" height="46.85" fill="#fc925d"/><rect x="878.85" y="852.95" width="46.85" height="46.85" fill="#fdc78f"/><rect x="924.1" y="852.95" width="46.85" height="46.85" fill="#fdd9a6"/><rect x="969.35" y="852.95" width="46.85" height="46.85" fill="#fdd9a6"/><rect x="1014.6" y="852.95" width="46.85" height="46.85" fill="#fee9c8"/><rect x="1059.85" y="852.95" width="46.85" height="46.85" fill="#fee9c8"/><rect x="1105.1" y="852.95" width="46.85" height="46.85" fill="#fee7c4"/><rect x="1150.35" y="852.95" width="46.85" height="46.85" fill="#fdddaf"/><rect x="1195.6" y="852.95" width="45.25" height="46.85" fill="#fdd59e"/><rect x="788.35" y="898.2" width="46.85" height="46.85" fill="#861b17"/><rect x="833.6" y="898.2" width="46.85" height="46.85" fill="#fc8c59"/><rect x="878.85" y="898.2" width="46.85" height="46.85" fill="#fdb780"/><rect x="924.1" y="898.2" width="46.85" height="46.85" fill="#fdc78f"/><rect x="969.35" y="898.2" width="46.85" height="46.85" fill="#fdd7a2"/><rect x="1014.6" y="898.2" width="46.85" height="46.85" fill="#fdd9a6"/><rect x="1059.85" y="898.2" width="46.85" height="46.85" fill="#fdd9a6"/><rect x="1105.1" y="898.2" width="46.85" height="46.85" fill="#fddaaa"/><rect x="1150.35" y="898.2" width="46.85" height="46.85" fill="#fdddaf"/><rect x="1195.6" y="898.2" width="45.25" height="46.85" fill="#fdd59e"/><rect x="788.35" y="943.45" width="46.85" height="45.25" fill="#861b17"/><rect x="833.6" y="943.45" width="46.85" height="45.25" fill="#fb8757"/><rect x="878.85" y="943.45" width="46.85" height="45.25" fill="#fca56f"/><rect x="924.1" y="943.45" width="46.85" height="45.25" fill="#fdc58e"/><rect x="969.35" y="943.45" width="46.85" height="45.25" fill="#fdd29b"/><rect x="1014.6" y="943.45" width="46.85" height="45.25" fill="#fddaaa"/><rect x="1059.85" y="943.45" width="46.85" height="45.25" fill="#fdd7a2"/><rect x="1105.1" y="943.45" width="46.85" height="45.25" fill="#fddaaa"/><rect x="1150.35" y="943.45" width="46.85" height="45.25" fill="#fdd59e"/><rect x="1195.6" y="943.45" width="45.25" height="45.25" fill="#fdd29b"/></g><path d="M789.3 900.9H1239.3" stroke="#000" stroke-width="2.2" stroke-dasharray="8.25 8.25" fill="none"/><path d="M1152.4 536.7V987.7" stroke="#000" stroke-width="2.2" stroke-dasharray="8.25 8.25" fill="none"/><circle cx="1037.5" cy="786" r="10.4" fill="none" stroke="rgb(20,140,52)" stroke-width="2.3"/><circle cx="1152.5" cy="900.9" r="10.2" fill="none" stroke="rgb(38,125,190)" stroke-width="2.3"/><rect x="789.3" y="537.7" width="450" height="450" fill="none" stroke="#000" stroke-width="2.35"/><path d="M783.3 537.7H789.3" stroke="#000" stroke-width="2.1"/><path d="M789.3 987.7V993.7" stroke="#000" stroke-width="2.1"/><text x="777" y="543.8" text-anchor="end" font-size="17.5" letter-spacing="0.4">0.0</text><text x="789.6" y="1012.3" text-anchor="middle" font-size="17.5" letter-spacing="0.4">0.0</text><path d="M783.3 610.3H789.3" stroke="#000" stroke-width="2.1"/><path d="M861.9 987.7V993.7" stroke="#000" stroke-width="2.1"/><text x="777" y="616.4" text-anchor="end" font-size="17.5" letter-spacing="0.4">0.2</text><text x="862.2" y="1012.3" text-anchor="middle" font-size="17.5" letter-spacing="0.4">0.2</text><path d="M783.3 682.9H789.3" stroke="#000" stroke-width="2.1"/><path d="M934.5 987.7V993.7" stroke="#000" stroke-width="2.1"/><text x="777" y="689" text-anchor="end" font-size="17.5" letter-spacing="0.4">0.4</text><text x="934.8" y="1012.3" text-anchor="middle" font-size="17.5" letter-spacing="0.4">0.4</text><path d="M783.3 755.5H789.3" stroke="#000" stroke-width="2.1"/><path d="M1007.1 987.7V993.7" stroke="#000" stroke-width="2.1"/><text x="777" y="761.6" text-anchor="end" font-size="17.5" letter-spacing="0.4">0.6</text><text x="1007.4" y="1012.3" text-anchor="middle" font-size="17.5" letter-spacing="0.4">0.6</text><path d="M783.3 828.1H789.3" stroke="#000" stroke-width="2.1"/><path d="M1079.7 987.7V993.7" stroke="#000" stroke-width="2.1"/><text x="777" y="834.2" text-anchor="end" font-size="17.5" letter-spacing="0.4">0.8</text><text x="1080" y="1012.3" text-anchor="middle" font-size="17.5" letter-spacing="0.4">0.8</text><path d="M783.3 900.7H789.3" stroke="#000" stroke-width="2.1"/><path d="M1152.3 987.7V993.7" stroke="#000" stroke-width="2.1"/><text x="777" y="906.8" text-anchor="end" font-size="17.5" letter-spacing="0.4">1.0</text><text x="1152.6" y="1012.3" text-anchor="middle" font-size="17.5" letter-spacing="0.4">1.0</text><path d="M783.3 973.3H789.3" stroke="#000" stroke-width="2.1"/><path d="M1224.9 987.7V993.7" stroke="#000" stroke-width="2.1"/><text x="777" y="979.4" text-anchor="end" font-size="17.5" letter-spacing="0.4">1.2</text><text x="1225.2" y="1012.3" text-anchor="middle" font-size="17.5" letter-spacing="0.4">1.2</text><text x="1016.4" y="1038.5" font-size="28">α</text><text x="1033.5" y="1048.5" font-size="17.5">r</text><g transform="translate(732.3 776.8) rotate(-90)"><text x="0" y="0" font-size="28">α</text><text x="17.2" y="10.2" font-size="17.5">s</text></g><rect x="1261.3" y="537.7" width="22.5" height="450" fill="url(#cb)" stroke="#000" stroke-width="2.1"/><path d="M1283.8 537.7H1289.8" stroke="#000" stroke-width="2.1"/><text x="1295.8" y="544.3" font-size="17.5" letter-spacing="0.75">-3.02</text><path d="M1283.8 762.7H1289.8" stroke="#000" stroke-width="2.1"/><text x="1295.8" y="769.3" font-size="17.5" letter-spacing="0.75">-6.86</text><path d="M1283.8 987.7H1289.8" stroke="#000" stroke-width="2.1"/><text x="1295.8" y="994.3" font-size="17.5" letter-spacing="0.75">-10.70</text><g transform="translate(1367.9 795.8) rotate(-90)"><text x="0" y="0" font-size="23.5" letter-spacing="0.92">Log(loss)</text></g></g>
<g><clipPath id="c4"><rect x="87.6" y="1060.7" width="453.1" height="453.1"/></clipPath><g clip-path="url(#c4)"><rect x="88" y="1061.1" width="46.85" height="46.85" fill="#7f1a16"/><rect x="133.25" y="1061.1" width="46.85" height="46.85" fill="#7f1a16"/><rect x="178.5" y="1061.1" width="46.85" height="46.85" fill="#811a16"/><rect x="223.75" y="1061.1" width="46.85" height="46.85" fill="#7f1a16"/><rect x="269" y="1061.1" width="46.85" height="46.85" fill="#7f1a16"/><rect x="314.25" y="1061.1" width="46.85" height="46.85" fill="#7f1a16"/><rect x="359.5" y="1061.1" width="46.85" height="46.85" fill="#7f1a16"/><rect x="404.75" y="1061.1" width="46.85" height="46.85" fill="#821b16"/><rect x="450" y="1061.1" width="46.85" height="46.85" fill="#821b16"/><rect x="495.25" y="1061.1" width="45.25" height="46.85" fill="#821b16"/><rect x="88" y="1106.35" width="46.85" height="46.85" fill="#7f1a16"/><rect x="133.25" y="1106.35" width="46.85" height="46.85" fill="#931e19"/><rect x="178.5" y="1106.35" width="46.85" height="46.85" fill="#991f1a"/><rect x="223.75" y="1106.35" width="46.85" height="46.85" fill="#ae231c"/><rect x="269" y="1106.35" width="46.85" height="46.85" fill="#c92b1f"/><rect x="314.25" y="1106.35" width="46.85" height="46.85" fill="#dc412b"/><rect x="359.5" y="1106.35" width="46.85" height="46.85" fill="#f16446"/><rect x="404.75" y="1106.35" width="46.85" height="46.85" fill="#f87750"/><rect x="450" y="1106.35" width="46.85" height="46.85" fill="#f97b51"/><rect x="495.25" y="1106.35" width="45.25" height="46.85" fill="#f87750"/><rect x="88" y="1151.6" width="46.85" height="46.85" fill="#7f1a16"/><rect x="133.25" y="1151.6" width="46.85" height="46.85" fill="#961f19"/><rect x="178.5" y="1151.6" width="46.85" height="46.85" fill="#bb251c"/><rect x="223.75" y="1151.6" width="46.85" height="46.85" fill="#ec5c40"/><rect x="269" y="1151.6" width="46.85" height="46.85" fill="#f46b4b"/><rect x="314.25" y="1151.6" width="46.85" height="46.85" fill="#fc925d"/><rect x="359.5" y="1151.6" width="46.85" height="46.85" fill="#fc9761"/><rect x="404.75" y="1151.6" width="46.85" height="46.85" fill="#fdac75"/><rect x="450" y="1151.6" width="46.85" height="46.85" fill="#fda670"/><rect x="495.25" y="1151.6" width="45.25" height="46.85" fill="#fc9761"/><rect x="88" y="1196.85" width="46.85" height="46.85" fill="#7f1a16"/><rect x="133.25" y="1196.85" width="46.85" height="46.85" fill="#b9241c"/><rect x="178.5" y="1196.85" width="46.85" height="46.85" fill="#ec5c40"/><rect x="223.75" y="1196.85" width="46.85" height="46.85" fill="#f97b51"/><rect x="269" y="1196.85" width="46.85" height="46.85" fill="#fca56f"/><rect x="314.25" y="1196.85" width="46.85" height="46.85" fill="#fca56f"/><rect x="359.5" y="1196.85" width="46.85" height="46.85" fill="#fdc78f"/><rect x="404.75" y="1196.85" width="46.85" height="46.85" fill="#fdc28b"/><rect x="450" y="1196.85" width="46.85" height="46.85" fill="#fdc28b"/><rect x="495.25" y="1196.85" width="45.25" height="46.85" fill="#fdbf87"/><rect x="88" y="1242.1" width="46.85" height="46.85" fill="#7f1a16"/><rect x="133.25" y="1242.1" width="46.85" height="46.85" fill="#cf3121"/><rect x="178.5" y="1242.1" width="46.85" height="46.85" fill="#f97b51"/><rect x="223.75" y="1242.1" width="46.85" height="46.85" fill="#fdb37c"/><rect x="269" y="1242.1" width="46.85" height="46.85" fill="#fdc28b"/><rect x="314.25" y="1242.1" width="46.85" height="46.85" fill="#fdd29b"/><rect x="359.5" y="1242.1" width="46.85" height="46.85" fill="#fdd29b"/><rect x="404.75" y="1242.1" width="46.85" height="46.85" fill="#fdd099"/><rect x="450" y="1242.1" width="46.85" height="46.85" fill="#fdcb94"/><rect x="495.25" y="1242.1" width="45.25" height="46.85" fill="#fdd29b"/><rect x="88" y="1287.35" width="46.85" height="46.85" fill="#7f1a16"/><rect x="133.25" y="1287.35" width="46.85" height="46.85" fill="#dc422c"/><rect x="178.5" y="1287.35" width="46.85" height="46.85" fill="#fdad77"/><rect x="223.75" y="1287.35" width="46.85" height="46.85" fill="#fdd59e"/><rect x="269" y="1287.35" width="46.85" height="46.85" fill="#fddaaa"/><rect x="314.25" y="1287.35" width="46.85" height="46.85" fill="#fdddaf"/><rect x="359.5" y="1287.35" width="46.85" height="46.85" fill="#fee9c8"/><rect x="404.75" y="1287.35" width="46.85" height="46.85" fill="#fdd7a3"/><rect x="450" y="1287.35" width="46.85" height="46.85" fill="#fddaaa"/><rect x="495.25" y="1287.35" width="45.25" height="46.85" fill="#fddaaa"/><rect x="88" y="1332.6" width="46.85" height="46.85" fill="#7f1a16"/><rect x="133.25" y="1332.6" width="46.85" height="46.85" fill="#f46a4a"/><rect x="178.5" y="1332.6" width="46.85" height="46.85" fill="#fdad77"/><rect x="223.75" y="1332.6" width="46.85" height="46.85" fill="#fdd59e"/><rect x="269" y="1332.6" width="46.85" height="46.85" fill="#fee4bf"/><rect x="314.25" y="1332.6" width="46.85" height="46.85" fill="#fee9c8"/><rect x="359.5" y="1332.6" width="46.85" height="46.85" fill="#fff2df"/><rect x="404.75" y="1332.6" width="46.85" height="46.85" fill="#fff2df"/><rect x="450" y="1332.6" width="46.85" height="46.85" fill="#fff5e4"/><rect x="495.25" y="1332.6" width="45.25" height="46.85" fill="#fff1dc"/><rect x="88" y="1377.85" width="46.85" height="46.85" fill="#7f1a16"/><rect x="133.25" y="1377.85" width="46.85" height="46.85" fill="#f8754f"/><rect x="178.5" y="1377.85" width="46.85" height="46.85" fill="#fdc28b"/><rect x="223.75" y="1377.85" width="46.85" height="46.85" fill="#fddaaa"/><rect x="269" y="1377.85" width="46.85" height="46.85" fill="#fee4bf"/><rect x="314.25" y="1377.85" width="46.85" height="46.85" fill="#fee9c8"/><rect x="359.5" y="1377.85" width="46.85" height="46.85" fill="#fff7ea"/><rect x="404.75" y="1377.85" width="46.85" height="46.85" fill="#fff6e9"/><rect x="450" y="1377.85" width="46.85" height="46.85" fill="#feebcd"/><rect x="495.25" y="1377.85" width="45.25" height="46.85" fill="#feedd1"/><rect x="88" y="1423.1" width="46.85" height="46.85" fill="#7f1a16"/><rect x="133.25" y="1423.1" width="46.85" height="46.85" fill="#f97951"/><rect x="178.5" y="1423.1" width="46.85" height="46.85" fill="#fdc58e"/><rect x="223.75" y="1423.1" width="46.85" height="46.85" fill="#fdc78f"/><rect x="269" y="1423.1" width="46.85" height="46.85" fill="#feebcd"/><rect x="314.25" y="1423.1" width="46.85" height="46.85" fill="#fee4bf"/><rect x="359.5" y="1423.1" width="46.85" height="46.85" fill="#fff1dc"/><rect x="404.75" y="1423.1" width="46.85" height="46.85" fill="#fff1dc"/><rect x="450" y="1423.1" width="46.85" height="46.85" fill="#fee7c4"/><rect x="495.25" y="1423.1" width="45.25" height="46.85" fill="#fee4bf"/><rect x="88" y="1468.35" width="46.85" height="45.25" fill="#7f1a16"/><rect x="133.25" y="1468.35" width="46.85" height="45.25" fill="#f7704d"/><rect x="178.5" y="1468.35" width="46.85" height="45.25" fill="#fdac75"/><rect x="223.75" y="1468.35" width="46.85" height="45.25" fill="#fdc58e"/><rect x="269" y="1468.35" width="46.85" height="45.25" fill="#fdd59e"/><rect x="314.25" y="1468.35" width="46.85" height="45.25" fill="#fee7c4"/><rect x="359.5" y="1468.35" width="46.85" height="45.25" fill="#fee4bf"/><rect x="404.75" y="1468.35" width="46.85" height="45.25" fill="#fee4bf"/><rect x="450" y="1468.35" width="46.85" height="45.25" fill="#fdddaf"/><rect x="495.25" y="1468.35" width="45.25" height="45.25" fill="#fdd7a2"/></g><path d="M89.1 1424.1H539.1" stroke="#000" stroke-width="2.2" stroke-dasharray="8.25 8.25" fill="none"/><path d="M451.5 1061.2V1512.2" stroke="#000" stroke-width="2.2" stroke-dasharray="8.25 8.25" fill="none"/><circle cx="411.6" cy="1384.8" r="10.4" fill="none" stroke="rgb(20,140,52)" stroke-width="2.3"/><circle cx="452.3" cy="1425.4" r="10.2" fill="none" stroke="rgb(38,125,190)" stroke-width="2.3"/><rect x="89.1" y="1062.2" width="450" height="450" fill="none" stroke="#000" stroke-width="2.35"/><path d="M83.1 1062.2H89.1" stroke="#000" stroke-width="2.1"/><path d="M89.1 1512.2V1518.2" stroke="#000" stroke-width="2.1"/><text x="76.8" y="1068.3" text-anchor="end" font-size="17.5" letter-spacing="0.4">0.0</text><text x="89.4" y="1536.8" text-anchor="middle" font-size="17.5" letter-spacing="0.4">0.0</text><path d="M83.1 1134.8H89.1" stroke="#000" stroke-width="2.1"/><path d="M161.7 1512.2V1518.2" stroke="#000" stroke-width="2.1"/><text x="76.8" y="1140.9" text-anchor="end" font-size="17.5" letter-spacing="0.4">0.2</text><text x="162" y="1536.8" text-anchor="middle" font-size="17.5" letter-spacing="0.4">0.2</text><path d="M83.1 1207.4H89.1" stroke="#000" stroke-width="2.1"/><path d="M234.3 1512.2V1518.2" stroke="#000" stroke-width="2.1"/><text x="76.8" y="1213.5" text-anchor="end" font-size="17.5" letter-spacing="0.4">0.4</text><text x="234.6" y="1536.8" text-anchor="middle" font-size="17.5" letter-spacing="0.4">0.4</text><path d="M83.1 1280H89.1" stroke="#000" stroke-width="2.1"/><path d="M306.9 1512.2V1518.2" stroke="#000" stroke-width="2.1"/><text x="76.8" y="1286.1" text-anchor="end" font-size="17.5" letter-spacing="0.4">0.6</text><text x="307.2" y="1536.8" text-anchor="middle" font-size="17.5" letter-spacing="0.4">0.6</text><path d="M83.1 1352.6H89.1" stroke="#000" stroke-width="2.1"/><path d="M379.5 1512.2V1518.2" stroke="#000" stroke-width="2.1"/><text x="76.8" y="1358.7" text-anchor="end" font-size="17.5" letter-spacing="0.4">0.8</text><text x="379.8" y="1536.8" text-anchor="middle" font-size="17.5" letter-spacing="0.4">0.8</text><path d="M83.1 1425.2H89.1" stroke="#000" stroke-width="2.1"/><path d="M452.1 1512.2V1518.2" stroke="#000" stroke-width="2.1"/><text x="76.8" y="1431.3" text-anchor="end" font-size="17.5" letter-spacing="0.4">1.0</text><text x="452.4" y="1536.8" text-anchor="middle" font-size="17.5" letter-spacing="0.4">1.0</text><path d="M83.1 1497.8H89.1" stroke="#000" stroke-width="2.1"/><path d="M524.7 1512.2V1518.2" stroke="#000" stroke-width="2.1"/><text x="76.8" y="1503.9" text-anchor="end" font-size="17.5" letter-spacing="0.4">1.2</text><text x="525" y="1536.8" text-anchor="middle" font-size="17.5" letter-spacing="0.4">1.2</text><text x="318.6" y="1562.3" font-size="28">α</text><text x="335.7" y="1572.3" font-size="17.5">r</text><g transform="translate(30 1299.85) rotate(-90)"><text x="0" y="0" font-size="28">α</text><text x="17.2" y="10.2" font-size="17.5">s</text></g><rect x="561.1" y="1062.2" width="22.5" height="450" fill="url(#cb)" stroke="#000" stroke-width="2.1"/><path d="M583.6 1062.2H589.6" stroke="#000" stroke-width="2.1"/><text x="595.6" y="1068.8" font-size="17.5" letter-spacing="0.75">-1.76</text><path d="M583.6 1287.2H589.6" stroke="#000" stroke-width="2.1"/><text x="595.6" y="1293.8" font-size="17.5" letter-spacing="0.75">-5.58</text><path d="M583.6 1512.2H589.6" stroke="#000" stroke-width="2.1"/><text x="595.6" y="1518.8" font-size="17.5" letter-spacing="0.75">-9.39</text><g transform="translate(659.1 1319.6) rotate(-90)"><text x="0" y="0" font-size="23.5" letter-spacing="0.92">Log(loss)</text></g></g>
<g><clipPath id="c5"><rect x="789.9" y="1056.8" width="453.1" height="453.1"/></clipPath><g clip-path="url(#c5)"><rect x="789.75" y="1056.8" width="46.85" height="46.85" fill="#7f1a16"/><rect x="835" y="1056.8" width="46.85" height="46.85" fill="#f97d52"/><rect x="880.25" y="1056.8" width="46.85" height="46.85" fill="#f97b51"/><rect x="925.5" y="1056.8" width="46.85" height="46.85" fill="#f46b4b"/><rect x="970.75" y="1056.8" width="46.85" height="46.85" fill="#f97d52"/><rect x="1016" y="1056.8" width="46.85" height="46.85" fill="#f66e4c"/><rect x="1061.25" y="1056.8" width="46.85" height="46.85" fill="#f7714d"/><rect x="1106.5" y="1056.8" width="46.85" height="46.85" fill="#f46b4b"/><rect x="1151.75" y="1056.8" width="46.85" height="46.85" fill="#f7714d"/><rect x="1197" y="1056.8" width="45.25" height="46.85" fill="#f46b4b"/><rect x="789.75" y="1102.05" width="46.85" height="46.85" fill="#dd442d"/><rect x="835" y="1102.05" width="46.85" height="46.85" fill="#fff8ec"/><rect x="880.25" y="1102.05" width="46.85" height="46.85" fill="#fee7c4"/><rect x="925.5" y="1102.05" width="46.85" height="46.85" fill="#fee4bf"/><rect x="970.75" y="1102.05" width="46.85" height="46.85" fill="#fdd8a5"/><rect x="1016" y="1102.05" width="46.85" height="46.85" fill="#feebcd"/><rect x="1061.25" y="1102.05" width="46.85" height="46.85" fill="#fee4bf"/><rect x="1106.5" y="1102.05" width="46.85" height="46.85" fill="#fee4bf"/><rect x="1151.75" y="1102.05" width="46.85" height="46.85" fill="#fddaa8"/><rect x="1197" y="1102.05" width="45.25" height="46.85" fill="#fee3bb"/><rect x="789.75" y="1147.3" width="46.85" height="46.85" fill="#d63725"/><rect x="835" y="1147.3" width="46.85" height="46.85" fill="#feebcd"/><rect x="880.25" y="1147.3" width="46.85" height="46.85" fill="#fdd7a2"/><rect x="925.5" y="1147.3" width="46.85" height="46.85" fill="#fddeb2"/><rect x="970.75" y="1147.3" width="46.85" height="46.85" fill="#fdd7a2"/><rect x="1016" y="1147.3" width="46.85" height="46.85" fill="#fddaaa"/><rect x="1061.25" y="1147.3" width="46.85" height="46.85" fill="#fdd7a2"/><rect x="1106.5" y="1147.3" width="46.85" height="46.85" fill="#fdd59e"/><rect x="1151.75" y="1147.3" width="46.85" height="46.85" fill="#fdd59e"/><rect x="1197" y="1147.3" width="45.25" height="46.85" fill="#fdd7a2"/><rect x="789.75" y="1192.55" width="46.85" height="46.85" fill="#d63725"/><rect x="835" y="1192.55" width="46.85" height="46.85" fill="#fee7c4"/><rect x="880.25" y="1192.55" width="46.85" height="46.85" fill="#fddaa8"/><rect x="925.5" y="1192.55" width="46.85" height="46.85" fill="#fdd7a2"/><rect x="970.75" y="1192.55" width="46.85" height="46.85" fill="#fddaaa"/><rect x="1016" y="1192.55" width="46.85" height="46.85" fill="#fdc78f"/><rect x="1061.25" y="1192.55" width="46.85" height="46.85" fill="#fdc58e"/><rect x="1106.5" y="1192.55" width="46.85" height="46.85" fill="#fdce97"/><rect x="1151.75" y="1192.55" width="46.85" height="46.85" fill="#fdc58e"/><rect x="1197" y="1192.55" width="45.25" height="46.85" fill="#fdb780"/><rect x="789.75" y="1237.8" width="46.85" height="46.85" fill="#df4730"/><rect x="835" y="1237.8" width="46.85" height="46.85" fill="#fddeb0"/><rect x="880.25" y="1237.8" width="46.85" height="46.85" fill="#fddaaa"/><rect x="925.5" y="1237.8" width="46.85" height="46.85" fill="#fdd7a2"/><rect x="970.75" y="1237.8" width="46.85" height="46.85" fill="#fdd7a2"/><rect x="1016" y="1237.8" width="46.85" height="46.85" fill="#fdd7a3"/><rect x="1061.25" y="1237.8" width="46.85" height="46.85" fill="#fdbc84"/><rect x="1106.5" y="1237.8" width="46.85" height="46.85" fill="#fdb27b"/><rect x="1151.75" y="1237.8" width="46.85" height="46.85" fill="#fdb37c"/><rect x="1197" y="1237.8" width="45.25" height="46.85" fill="#fdb981"/><rect x="789.75" y="1283.05" width="46.85" height="46.85" fill="#e55036"/><rect x="835" y="1283.05" width="46.85" height="46.85" fill="#fddaa8"/><rect x="880.25" y="1283.05" width="46.85" height="46.85" fill="#fdcb94"/><rect x="925.5" y="1283.05" width="46.85" height="46.85" fill="#fdc58e"/><rect x="970.75" y="1283.05" width="46.85" height="46.85" fill="#fdbf87"/><rect x="1016" y="1283.05" width="46.85" height="46.85" fill="#fca36d"/><rect x="1061.25" y="1283.05" width="46.85" height="46.85" fill="#fca36d"/><rect x="1106.5" y="1283.05" width="46.85" height="46.85" fill="#fc9f69"/><rect x="1151.75" y="1283.05" width="46.85" height="46.85" fill="#fc9b65"/><rect x="1197" y="1283.05" width="45.25" height="46.85" fill="#fc9b65"/><rect x="789.75" y="1328.3" width="46.85" height="46.85" fill="#e34d34"/><rect x="835" y="1328.3" width="46.85" height="46.85" fill="#fdd59e"/><rect x="880.25" y="1328.3" width="46.85" height="46.85" fill="#fddaaa"/><rect x="925.5" y="1328.3" width="46.85" height="46.85" fill="#fdb37c"/><rect x="970.75" y="1328.3" width="46.85" height="46.85" fill="#fdad77"/><rect x="1016" y="1328.3" width="46.85" height="46.85" fill="#fc9863"/><rect x="1061.25" y="1328.3" width="46.85" height="46.85" fill="#fca56f"/><rect x="1106.5" y="1328.3" width="46.85" height="46.85" fill="#fc945f"/><rect x="1151.75" y="1328.3" width="46.85" height="46.85" fill="#fd915c"/><rect x="1197" y="1328.3" width="45.25" height="46.85" fill="#fd8e5a"/><rect x="789.75" y="1373.55" width="46.85" height="46.85" fill="#e65138"/><rect x="835" y="1373.55" width="46.85" height="46.85" fill="#fdd29b"/><rect x="880.25" y="1373.55" width="46.85" height="46.85" fill="#fdc78f"/><rect x="925.5" y="1373.55" width="46.85" height="46.85" fill="#fdc78f"/><rect x="970.75" y="1373.55" width="46.85" height="46.85" fill="#fdb37c"/><rect x="1016" y="1373.55" width="46.85" height="46.85" fill="#fdab74"/><rect x="1061.25" y="1373.55" width="46.85" height="46.85" fill="#fc9964"/><rect x="1106.5" y="1373.55" width="46.85" height="46.85" fill="#fc9f69"/><rect x="1151.75" y="1373.55" width="46.85" height="46.85" fill="#fc8c59"/><rect x="1197" y="1373.55" width="45.25" height="46.85" fill="#fd8e5a"/><rect x="789.75" y="1418.8" width="46.85" height="46.85" fill="#e65138"/><rect x="835" y="1418.8" width="46.85" height="46.85" fill="#fdc78f"/><rect x="880.25" y="1418.8" width="46.85" height="46.85" fill="#fdbe87"/><rect x="925.5" y="1418.8" width="46.85" height="46.85" fill="#fdc58e"/><rect x="970.75" y="1418.8" width="46.85" height="46.85" fill="#fca56f"/><rect x="1016" y="1418.8" width="46.85" height="46.85" fill="#fc9b65"/><rect x="1061.25" y="1418.8" width="46.85" height="46.85" fill="#fc945f"/><rect x="1106.5" y="1418.8" width="46.85" height="46.85" fill="#fb8757"/><rect x="1151.75" y="1418.8" width="46.85" height="46.85" fill="#fc8c59"/><rect x="1197" y="1418.8" width="45.25" height="46.85" fill="#fc8c59"/><rect x="789.75" y="1464.05" width="46.85" height="45.25" fill="#d43523"/><rect x="835" y="1464.05" width="46.85" height="45.25" fill="#fdc78f"/><rect x="880.25" y="1464.05" width="46.85" height="45.25" fill="#fdc28b"/><rect x="925.5" y="1464.05" width="46.85" height="45.25" fill="#fdb27b"/><rect x="970.75" y="1464.05" width="46.85" height="45.25" fill="#fdab74"/><rect x="1016" y="1464.05" width="46.85" height="45.25" fill="#fc9f69"/><rect x="1061.25" y="1464.05" width="46.85" height="45.25" fill="#fc8c59"/><rect x="1106.5" y="1464.05" width="46.85" height="45.25" fill="#fb8757"/><rect x="1151.75" y="1464.05" width="46.85" height="45.25" fill="#fc8c59"/><rect x="1197" y="1464.05" width="45.25" height="45.25" fill="#fb8757"/></g><path d="M791.4 1421.9H1241.4" stroke="#000" stroke-width="2.2" stroke-dasharray="8.25 8.25" fill="none"/><path d="M1154.4 1057.3V1508.3" stroke="#000" stroke-width="2.2" stroke-dasharray="8.25 8.25" fill="none"/><circle cx="841" cy="1108.1" r="10.4" fill="none" stroke="rgb(20,140,52)" stroke-width="2.3"/><circle cx="1154.6" cy="1421.5" r="10.2" fill="none" stroke="rgb(38,125,190)" stroke-width="2.3"/><rect x="791.4" y="1058.3" width="450" height="450" fill="none" stroke="#000" stroke-width="2.35"/><path d="M785.4 1058.3H791.4" stroke="#000" stroke-width="2.1"/><path d="M791.4 1508.3V1514.3" stroke="#000" stroke-width="2.1"/><text x="779.1" y="1064.4" text-anchor="end" font-size="17.5" letter-spacing="0.4">0.0</text><text x="791.7" y="1532.9" text-anchor="middle" font-size="17.5" letter-spacing="0.4">0.0</text><path d="M785.4 1130.9H791.4" stroke="#000" stroke-width="2.1"/><path d="M864 1508.3V1514.3" stroke="#000" stroke-width="2.1"/><text x="779.1" y="1137" text-anchor="end" font-size="17.5" letter-spacing="0.4">0.2</text><text x="864.3" y="1532.9" text-anchor="middle" font-size="17.5" letter-spacing="0.4">0.2</text><path d="M785.4 1203.5H791.4" stroke="#000" stroke-width="2.1"/><path d="M936.6 1508.3V1514.3" stroke="#000" stroke-width="2.1"/><text x="779.1" y="1209.6" text-anchor="end" font-size="17.5" letter-spacing="0.4">0.4</text><text x="936.9" y="1532.9" text-anchor="middle" font-size="17.5" letter-spacing="0.4">0.4</text><path d="M785.4 1276.1H791.4" stroke="#000" stroke-width="2.1"/><path d="M1009.2 1508.3V1514.3" stroke="#000" stroke-width="2.1"/><text x="779.1" y="1282.2" text-anchor="end" font-size="17.5" letter-spacing="0.4">0.6</text><text x="1009.5" y="1532.9" text-anchor="middle" font-size="17.5" letter-spacing="0.4">0.6</text><path d="M785.4 1348.7H791.4" stroke="#000" stroke-width="2.1"/><path d="M1081.8 1508.3V1514.3" stroke="#000" stroke-width="2.1"/><text x="779.1" y="1354.8" text-anchor="end" font-size="17.5" letter-spacing="0.4">0.8</text><text x="1082.1" y="1532.9" text-anchor="middle" font-size="17.5" letter-spacing="0.4">0.8</text><path d="M785.4 1421.3H791.4" stroke="#000" stroke-width="2.1"/><path d="M1154.4 1508.3V1514.3" stroke="#000" stroke-width="2.1"/><text x="779.1" y="1427.4" text-anchor="end" font-size="17.5" letter-spacing="0.4">1.0</text><text x="1154.7" y="1532.9" text-anchor="middle" font-size="17.5" letter-spacing="0.4">1.0</text><path d="M785.4 1493.9H791.4" stroke="#000" stroke-width="2.1"/><path d="M1227 1508.3V1514.3" stroke="#000" stroke-width="2.1"/><text x="779.1" y="1500" text-anchor="end" font-size="17.5" letter-spacing="0.4">1.2</text><text x="1227.3" y="1532.9" text-anchor="middle" font-size="17.5" letter-spacing="0.4">1.2</text><text x="1022.5" y="1560.55" font-size="28">α</text><text x="1039.6" y="1570.55" font-size="17.5">r</text><g transform="translate(734.2 1297.7) rotate(-90)"><text x="0" y="0" font-size="28">α</text><text x="17.2" y="10.2" font-size="17.5">s</text></g><rect x="1263.4" y="1058.3" width="22.5" height="450" fill="url(#cb)" stroke="#000" stroke-width="2.1"/><path d="M1285.9 1058.3H1291.9" stroke="#000" stroke-width="2.1"/><text x="1297.9" y="1064.9" font-size="17.5" letter-spacing="0.75">-3.14</text><path d="M1285.9 1283.3H1291.9" stroke="#000" stroke-width="2.1"/><text x="1297.9" y="1289.9" font-size="17.5" letter-spacing="0.75">-7.19</text><path d="M1285.9 1508.3H1291.9" stroke="#000" stroke-width="2.1"/><text x="1297.9" y="1514.9" font-size="17.5" letter-spacing="0.75">-11.24</text><g transform="translate(1367.9 1318.9) rotate(-90)"><text x="0" y="0" font-size="23.5" letter-spacing="0.92">Log(loss)</text></g></g>
</svg></body></html>
